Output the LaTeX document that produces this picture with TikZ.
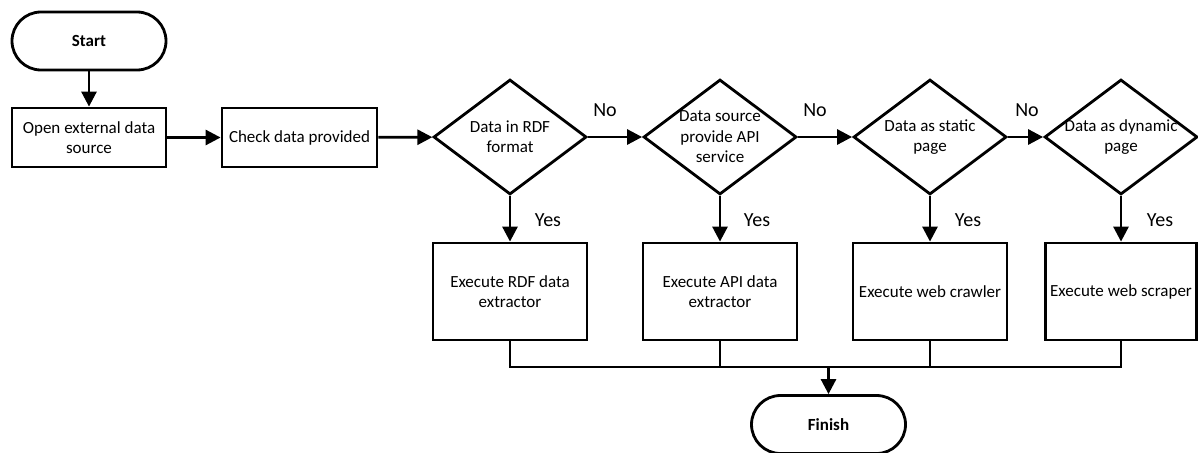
\documentclass[tikz,border=0pt]{standalone}
\usepackage{fontspec}
\setmainfont{Carlito}
\usetikzlibrary{shapes.geometric,arrows.meta}
\begin{document}
\begin{tikzpicture}[x=1pt,y=-1pt,
  every node/.style={font=\fontsize{17}{20.4}\selectfont},
  stepbox/.style={draw,line width=2.8pt,rectangle,inner sep=0pt,align=center},
  term/.style={draw,line width=2.8pt,rectangle,rounded corners=29pt,minimum width=154pt,minimum height=58pt,inner sep=0pt,font=\fontsize{17}{20.4}\selectfont\bfseries},
  dia/.style={draw,line width=2.8pt,diamond,minimum width=153pt,minimum height=115pt,inner sep=0pt},
  lbl/.style={font=\fontsize{20}{24}\selectfont},
  arr/.style={line width=2.8pt,-{Triangle[width=15pt,length=15pt]}},
  con/.style={line width=2.8pt}
]
\useasboundingbox (0,0) rectangle (1198,452);
\node[term] (start) at (89,41) {Start};
\node[stepbox,minimum width=154pt,minimum height=59pt] (open) at (89,137.5) {Open external data\\source};
\node[stepbox,minimum width=155pt,minimum height=59pt] (check) at (299.5,137.5) {Check data provided};
\node[dia] (d1) at (510,137) {};
\node[align=center] at (d1) {Data in RDF\\format};
\node[dia] (d2) at (720,137) {};
\node[align=center] at (d2) {Data source\\provide API\\service};
\node[dia] (d3) at (930,137) {};
\node[align=center] at (d3) {Data as static\\page};
\node[dia] (d4) at (1121,137) {};
\node[align=center] at (d4) {Data as dynamic\\page};
\node[stepbox,minimum width=154pt,minimum height=97pt] (b1) at (510,291.5) {Execute RDF data\\extractor};
\node[stepbox,minimum width=154pt,minimum height=97pt] (b2) at (720,291.5) {Execute API data\\extractor};
\node[stepbox,minimum width=154pt,minimum height=97pt] (b3) at (930,291.5) {Execute web crawler};
\node[stepbox,minimum width=151pt,minimum height=97pt] (b4) at (1121,291.5) {Execute web scraper};
\node[term,font=\fontsize{17}{20.4}\selectfont\bfseries] (fin) at (828.5,424.5) {Finish};
\coordinate (bus) at (828.5,367);
\draw[arr] (start) -- (open);
\draw[arr] (open) -- (check);
\draw[arr] (check) -- (d1);
\draw[arr] (d1) -- (d2);
\draw[arr] (d2) -- (d3);
\draw[arr] (d3) -- (d4);
\draw[arr] (d1) -- (b1);
\draw[arr] (d2) -- (b2);
\draw[arr] (d3) -- (b3);
\draw[arr] (d4) -- (b4);
\node[lbl] at (605,110) {No};
\node[lbl] at (815,110) {No};
\node[lbl] at (1027,110) {No};
\node[lbl] at (548,220) {Yes};
\node[lbl] at (757,220) {Yes};
\node[lbl] at (968,220) {Yes};
\node[lbl] at (1160,220) {Yes};
\draw[con] (b1.south) -- (b1.south |- bus) -- (b4.south |- bus) -- (b4.south);
\draw[con] (b2.south) -- (b2.south |- bus);
\draw[con] (b3.south) -- (b3.south |- bus);
\draw[arr] (bus) -- (fin.north);
\end{tikzpicture}
\end{document}
